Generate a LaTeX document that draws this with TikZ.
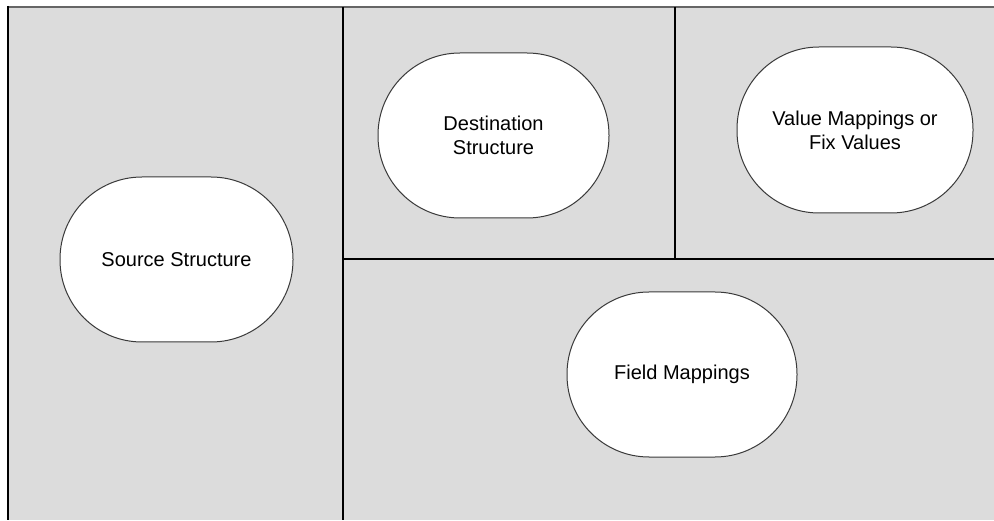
\documentclass[tikz,border=0pt]{standalone}
\usepackage{fontspec}
\setmainfont{Liberation Sans}
\definecolor{panelgray}{HTML}{DCDCDC}
\definecolor{topedge}{HTML}{666666}
\definecolor{outline}{HTML}{3A3A3A}
\tikzset{
  blob/.style={draw=outline, line width=1pt, fill=white, rectangle,
    minimum width=231pt, minimum height=165pt, rounded corners=82pt,
    align=center, inner sep=0pt,
    font=\fontsize{20}{24}\selectfont},
  divider/.style={black, line width=2.2pt}
}
\begin{document}
\begin{tikzpicture}[x=1pt,y=1pt]
\useasboundingbox (0,0) rectangle (994,520);
\fill[white] (0,0) rectangle (994,520);
\fill[panelgray] (8,0) rectangle (994,513);
\draw[topedge, line width=2pt] (7,513) -- (994,513);
\draw[black, line width=2pt] (8,514) -- (8,0);
% dividers
\coordinate (vtop) at (343,513);
\coordinate (vbot) at (343,0);
\coordinate (hleft) at (343,261);
\coordinate (hright) at (994,261);
\coordinate (v2top) at (675,513);
\coordinate (v2bot) at (675,261);
\draw[divider] (vtop) -- (vbot);
\draw[divider] (hleft) -- (hright);
\draw[divider] (v2top) -- (v2bot);
% nodes
\node[blob, minimum width=233pt] (src) at (176.5,260.5) {Source Structure};
\node[blob] (dst) at (493.5,384.5) {Destination\\Structure};
\node[blob, minimum width=236pt, minimum height=166pt] (val) at (855,390) {Value Mappings or\\Fix Values};
\node[blob, minimum width=230pt] (fld) at (682,145.5) {Field Mappings};
\end{tikzpicture}
\end{document}
